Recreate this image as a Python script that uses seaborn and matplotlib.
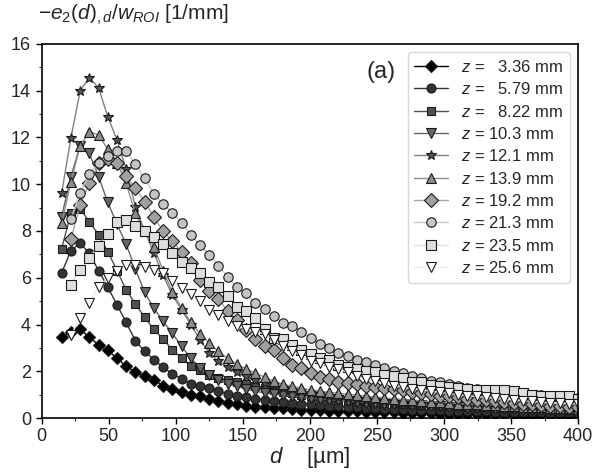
import matplotlib
matplotlib.use("Agg")
import matplotlib.pyplot as plt
import seaborn as sns
from matplotlib.ticker import MultipleLocator

# Abstand d in µm (Gitter der Messpunkte)
d_um = [15.0, 21.9, 28.8, 35.6, 42.5, 49.4, 56.3, 63.1, 70.0, 76.9,
        83.8, 90.6, 97.5, 104.4, 111.3, 118.1, 125.0, 131.9, 138.8, 145.6,
        152.5, 159.4, 166.3, 173.1, 180.0, 186.9, 193.8, 200.6, 207.5, 214.4,
        221.3, 228.1, 235.0, 241.9, 248.8, 255.6, 262.5, 269.4, 276.3, 283.1,
        290.0, 296.9, 303.8, 310.6, 317.5, 324.4, 331.3, 338.1, 345.0, 351.9,
        358.8, 365.6, 372.5, 379.4, 386.3, 393.1, 400.0]

z_labels = ["3.36", "5.79", "8.22", "10.3", "12.1", "13.9", "19.2", "21.3", "23.5", "25.6"]

e_336 = [3.45, 3.70, 3.80, 3.46, 3.13, 2.89, 2.56, 2.21, 1.95, 1.80,
         1.62, 1.38, 1.25, 1.11, 1.00, 0.92, 0.80, 0.72, 0.65, 0.58,
         0.52, 0.48, 0.45, 0.43, 0.41, 0.38, 0.36, 0.35, 0.33, 0.32,
         0.30, 0.29, 0.28, 0.27, 0.26, 0.25, 0.24, 0.22, 0.22, 0.21,
         0.20, 0.19, 0.18, 0.18, 0.17, 0.16, 0.16, 0.15, 0.15, 0.14,
         0.14, 0.13, 0.13, 0.12, 0.12, 0.12, 0.11]
e_579 = [6.20, 7.16, 7.48, 7.05, 6.31, 5.60, 4.84, 4.09, 3.30, 2.85,
         2.49, 2.18, 1.89, 1.68, 1.45, 1.35, 1.28, 1.14, 1.04, 0.95,
         0.90, 0.82, 0.78, 0.74, 0.70, 0.66, 0.62, 0.59, 0.56, 0.53,
         0.50, 0.48, 0.46, 0.44, 0.42, 0.40, 0.39, 0.38, 0.36, 0.35,
         0.34, 0.33, 0.32, 0.31, 0.30, 0.29, 0.28, 0.27, 0.27, 0.26,
         0.25, 0.24, 0.24, 0.23, 0.22, 0.22, 0.21]
e_822 = [7.25, 8.75, 8.95, 8.40, 7.85, 7.12, 6.30, 5.48, 4.88, 4.30,
         3.80, 3.38, 2.92, 2.56, 2.23, 2.06, 1.85, 1.71, 1.62, 1.52,
         1.45, 1.35, 1.28, 1.20, 1.13, 1.06, 1.00, 0.95, 0.90, 0.85,
         0.81, 0.78, 0.75, 0.72, 0.69, 0.66, 0.63, 0.61, 0.59, 0.57,
         0.55, 0.53, 0.51, 0.50, 0.48, 0.47, 0.46, 0.44, 0.43, 0.42,
         0.41, 0.40, 0.39, 0.38, 0.37, 0.36, 0.35]
e_103 = [8.62, 10.33, 11.64, 11.32, 10.33, 9.22, 8.30, 7.43, 6.37, 5.37,
         4.70, 4.13, 3.63, 3.06, 2.56, 2.14, 1.85, 1.64, 1.45, 1.35,
         1.24, 1.14, 1.08, 1.02, 0.98, 0.94, 0.90, 0.86, 0.82, 0.78,
         0.75, 0.72, 0.69, 0.66, 0.64, 0.62, 0.60, 0.58, 0.56, 0.54,
         0.52, 0.50, 0.48, 0.46, 0.44, 0.42, 0.41, 0.40, 0.38, 0.37,
         0.36, 0.35, 0.34, 0.33, 0.32, 0.31, 0.30]
e_121 = [9.62, 11.97, 13.99, 14.56, 14.13, 12.89, 11.89, 10.64, 9.04, 8.00,
         7.05, 6.10, 5.27, 4.63, 3.99, 3.35, 2.78, 2.42, 2.18, 1.95,
         1.78, 1.62, 1.50, 1.40, 1.30, 1.22, 1.15, 1.08, 1.02, 0.96,
         0.91, 0.87, 0.83, 0.79, 0.75, 0.72, 0.69, 0.66, 0.63, 0.61,
         0.59, 0.57, 0.55, 0.53, 0.51, 0.49, 0.47, 0.46, 0.44, 0.43,
         0.42, 0.40, 0.39, 0.38, 0.37, 0.36, 0.35]
e_139 = [8.33, 10.11, 11.64, 12.25, 12.11, 11.50, 10.90, 10.04, 8.75, 8.00,
         7.33, 6.30, 5.40, 4.70, 4.10, 3.60, 3.20, 2.85, 2.55, 2.30,
         2.10, 1.92, 1.75, 1.58, 1.45, 1.35, 1.27, 1.20, 1.15, 1.10,
         1.06, 1.02, 0.98, 0.94, 0.90, 0.86, 0.82, 0.79, 0.76, 0.73,
         0.70, 0.67, 0.64, 0.62, 0.60, 0.58, 0.56, 0.54, 0.52, 0.50,
         0.48, 0.47, 0.45, 0.44, 0.42, 0.41, 0.40]
# die letzten vier Reihen beginnen erst beim zweiten d-Wert
e_192 = [7.66, 9.10, 10.07, 10.90, 11.07, 10.90, 10.35, 9.83, 9.26, 8.60,
         8.00, 7.57, 7.12, 6.62, 5.91, 5.45, 5.10, 4.56, 4.20, 3.77,
         3.38, 3.06, 2.92, 2.56, 2.28, 2.14, 1.92, 1.75, 1.68, 1.56,
         1.50, 1.44, 1.38, 1.34, 1.30, 1.24, 1.18, 1.12, 1.06, 1.01,
         0.96, 0.92, 0.88, 0.83, 0.79, 0.75, 0.71, 0.67, 0.64, 0.61,
         0.58, 0.55, 0.53, 0.51, 0.49, 0.47]
e_213 = [8.50, 9.64, 10.43, 10.92, 11.20, 11.44, 11.44, 10.87, 10.25, 9.59,
         9.15, 8.79, 8.36, 7.83, 7.40, 6.97, 6.50, 6.05, 5.60, 5.34,
         4.93, 4.65, 4.37, 4.05, 3.92, 3.70, 3.42, 3.17, 2.99, 2.80,
         2.65, 2.48, 2.38, 2.26, 2.14, 2.03, 1.93, 1.80, 1.70, 1.60,
         1.52, 1.45, 1.38, 1.30, 1.25, 1.20, 1.16, 1.12, 1.08, 1.04,
         1.00, 0.97, 0.94, 0.91, 0.88, 0.85]
e_235 = [5.70, 6.34, 6.86, 7.35, 7.89, 8.40, 8.47, 8.23, 7.99, 7.75,
         7.45, 7.06, 6.67, 6.41, 6.20, 5.80, 5.60, 5.20, 4.77, 4.56,
         4.27, 3.80, 3.42, 3.38, 3.13, 2.92, 2.75, 2.56, 2.49, 2.28,
         2.20, 2.09, 1.99, 1.95, 1.85, 1.80, 1.70, 1.56, 1.52, 1.42,
         1.38, 1.32, 1.28, 1.24, 1.21, 1.21, 1.18, 1.18, 1.14, 1.07,
         1.00, 0.92, 0.92, 0.92, 0.92, 0.81]
e_256 = [3.56, 4.27, 4.94, 5.60, 5.98, 6.31, 6.55, 6.55, 6.45, 6.34,
         6.20, 5.84, 5.56, 5.31, 5.00, 4.63, 4.41, 4.15, 3.95, 3.80,
         3.70, 3.60, 3.35, 3.06, 2.85, 2.70, 2.45, 2.36, 2.20, 2.10,
         1.95, 1.80, 1.67, 1.58, 1.50, 1.38, 1.32, 1.26, 1.20, 1.15,
         1.10, 1.05, 1.00, 0.96, 0.92, 0.88, 0.84, 0.80, 0.77, 0.74,
         0.71, 0.68, 0.65, 0.63, 0.61, 0.59]

reihen = [e_336, e_579, e_822, e_103, e_121, e_139, e_192, e_213, e_235, e_256]

# Stil je Reihe: Marker, Flaechenfarbe, Linienfarbe, Markergroesse
marker = ["D", "o", "s", "v", "*", "^", "D", "o", "s", "v"]
face = ["#000000", "#333333", "#505050", "#666666", "#555555",
        "#8c8c8c", "#a0a0a0", "#c4c4c4", "#dedede", "#ffffff"]
linie = ["#000000", "#333333", "#505050", "#666666", "#808080",
         "#8c8c8c", "#a6a6a6", "#c8c8c8", "#e0e0e0", "#ececec"]
groesse = [6, 6.5, 6.3, 7, 7, 7, 6.8, 6.8, 6.5, 7]

sns.set_style("ticks")
plt.rcParams["font.family"] = ["Liberation Sans", "DejaVu Sans"]
plt.rcParams["mathtext.fontset"] = "custom"
plt.rcParams["mathtext.rm"] = "Liberation Sans"
plt.rcParams["mathtext.it"] = "Liberation Sans:italic"

fig = plt.figure(figsize=(6.06, 4.72), dpi=100)
ax = fig.add_axes([0.0685, 0.1144, 0.8855, 0.7924])

for i, werte in enumerate(reihen):
    x = d_um[len(d_um) - len(werte):]
    pad = "  " if len(z_labels[i]) == 4 and z_labels[i][1] == "." else ""
    sns.lineplot(x=x, y=werte, ax=ax, color=linie[i], marker=marker[i],
                 markersize=groesse[i], markerfacecolor=face[i],
                 markeredgecolor="#1a1a1a", markeredgewidth=0.8,
                 linewidth=1.0, label=r"$z$ = " + pad + z_labels[i] + " mm")

ax.set_xlim(0, 400)
ax.set_ylim(0, 16)
ax.xaxis.set_major_locator(MultipleLocator(50))
ax.xaxis.set_minor_locator(MultipleLocator(25))
ax.yaxis.set_major_locator(MultipleLocator(2))
ax.yaxis.set_minor_locator(MultipleLocator(1))
ax.tick_params(axis="both", which="major", labelsize=13, direction="out",
               length=4, width=1, color="k")
ax.tick_params(axis="both", which="minor", direction="out", length=2.5, width=0.8)
for s in ax.spines.values():
    s.set_color("black")
    s.set_linewidth(1.2)

ax.set_xlabel(r"$d$    [µm]", fontsize=16, labelpad=0)
ax.set_ylabel("")
fig.text(0.063, 0.968, r"$-e_2(d)_{,d}/w_{ROI}$ [1/mm]", fontsize=15,
         ha="left", va="center")
ax.text(0.633, 0.925, "(a)", transform=ax.transAxes, fontsize=17,
        ha="center", va="center")

ax.legend(loc="upper right", fontsize=12, handlelength=2.0,
          labelspacing=0.38, borderpad=0.4)

fig.savefig("out.png", dpi=100)
